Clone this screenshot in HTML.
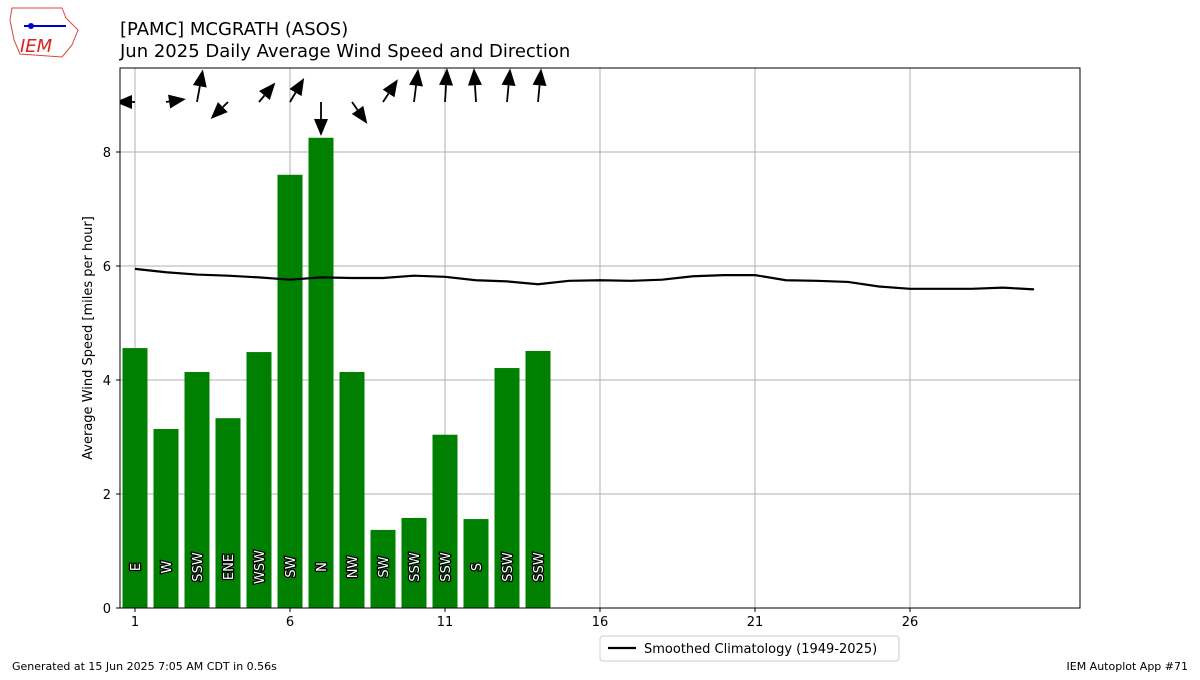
<!DOCTYPE html>
<html><head><meta charset="utf-8"><style>
body{margin:0;background:#fff;font-family:"Liberation Sans","DejaVu Sans",sans-serif}
svg text{font-family:"DejaVu Sans","Liberation Sans",sans-serif}
</style></head><body>
<svg id="chart" width="1200" height="675" xmlns="http://www.w3.org/2000/svg">
<g>
<path d="M12,8 L62,8 L66,18 L78,30 L72,45 L62,57 L20,54 L14,40 L10,20 Z" fill="#fff" stroke="#d44" stroke-width="1"/>
<line x1="24" y1="26" x2="66" y2="26" stroke="#00c" stroke-width="2"/>
<circle cx="31" cy="26" r="3" fill="#00c"/>
<text x="20" y="52" font-family="Liberation Serif" font-style="italic" font-size="18" fill="#d22">IEM</text>
</g>
<text x="120" y="35" font-size="18">[PAMC] MCGRATH (ASOS)</text>
<text x="120" y="57" font-size="18">Jun 2025 Daily Average Wind Speed and Direction</text>
<g id="grid"></g><g id="bars"></g><g id="arrows"></g>
<path id="clim" fill="none" stroke="#000" stroke-width="2.2"/>
<rect x="120" y="68" width="960" height="540" fill="none" stroke="#000" stroke-width="1"/>
<g id="axes"></g>
<text x="92" y="338" font-size="13" text-anchor="middle" transform="rotate(-90 92 338)">Average Wind Speed [miles per hour]</text>
<g>
<rect x="600" y="636" width="299" height="25" rx="3" fill="#fff" stroke="#ccc"/>
<line x1="608" y1="648" x2="636" y2="648" stroke="#000" stroke-width="2.2"/>
<text x="644" y="653" font-size="13">Smoothed Climatology (1949-2025)</text>
</g>
<text x="12" y="670" font-size="11">Generated at 15 Jun 2025 7:05 AM CDT in 0.56s</text>
<text x="1188" y="670" font-size="11" text-anchor="end">IEM Autoplot App #71</text>
</svg>
<script>
const days=[1,2,3,4,5,6,7,8,9,10,11,12,13,14];
const speeds=[4.56,3.14,4.14,3.33,4.49,7.6,8.25,4.14,1.37,1.58,3.04,1.56,4.21,4.51];
const dirLabels=["E","W","SSW","ENE","WSW","SW","N","NW","SW","SSW","SSW","S","SSW","SSW"];
const dirDegrees=[90,265,197,60,235,225,0,310,228,192,186,174,189,189];
const climDays=[1,2,3,4,5,6,7,8,9,10,11,12,13,14,15,16,17,18,19,20,21,22,23,24,25,26,27,28,29,30];
const climVals=[5.95,5.89,5.85,5.83,5.80,5.76,5.80,5.79,5.79,5.83,5.81,5.75,5.73,5.68,5.74,5.75,5.74,5.76,5.82,5.84,5.84,5.75,5.74,5.72,5.64,5.60,5.60,5.60,5.62,5.59];
const xTicks=[1,6,11,16,21,26];
const yTicks=[0,2,4,6,8];
const NS="http://www.w3.org/2000/svg";
const X=d=>135+(d-1)*31;
const Y=v=>608-v*57;
function mk(t,a,p){const e=document.createElementNS(NS,t);for(const k in a)e.setAttribute(k,a[k]);p.appendChild(e);return e;}
const grid=document.getElementById('grid'),axes=document.getElementById('axes');
xTicks.forEach(t=>{
 const g=mk('line',{x1:X(t),x2:X(t),y1:68,y2:608,stroke:'#b0b0b0','stroke-width':1},grid);
 
 
 mk('line',{x1:X(t),x2:X(t),y1:608,y2:612,stroke:'#000'},axes);
 const l=mk('text',{x:X(t),y:626,'font-size':13,'text-anchor':'middle'},axes);l.textContent=t;
 
 
});
yTicks.forEach(t=>{
 const g=mk('line',{x1:120,x2:1080,y1:Y(t),y2:Y(t),stroke:'#b0b0b0','stroke-width':1},grid);
 
 
 mk('line',{x1:116,x2:120,y1:Y(t),y2:Y(t),stroke:'#000'},axes);
 const l=mk('text',{x:111,y:Y(t)+5,'font-size':13,'text-anchor':'end'},axes);l.textContent=t;
 
 
});
const bars=document.getElementById('bars'),arrows=document.getElementById('arrows');
const clip=mk('clipPath',{id:'pc'},document.getElementById('chart'));mk('rect',{x:120,y:68,width:960,height:540},clip);
arrows.setAttribute('clip-path','url(#pc)');
days.forEach((d,i)=>{
 const b=mk('rect',{x:X(d)-12.5,y:Y(speeds[i]),width:25,height:speeds[i]*57,fill:'#008000'},bars);
 
 
 const tx=X(d)+5,ty=567;
 const t=mk('text',{x:tx,y:ty,'font-size':13,'text-anchor':'middle',fill:'#fff',stroke:'#000','stroke-width':2.5,'paint-order':'stroke',transform:`rotate(-90 ${tx} ${ty})`},bars);
 t.textContent=dirLabels[i];
 
 
 const h=(dirDegrees[i]+180)*Math.PI/180;
 const x0=X(d),y0=102;
 const dx=Math.sin(h)*20,dy=-Math.cos(h)*34;
 const x1=x0+dx,y1=y0+dy;
 const L=Math.hypot(dx,dy),ux=dx/L,uy=dy/L;
 const bx=x1-ux*17,by=y1-uy*17;
 const g=mk('g',{},arrows);
 
 
 mk('line',{x1:x0,y1:y0,x2:bx,y2:by,stroke:'#000','stroke-width':1.8},g);
 mk('polygon',{points:`${x1},${y1} ${bx-uy*7},${by+ux*7} ${bx+uy*7},${by-ux*7}`,fill:'#000'},g);
});
document.getElementById('clim').setAttribute('d',climDays.map((d,i)=>(i?'L':'M')+X(d)+','+Y(climVals[i])).join(' '));
</script>
</body></html>
